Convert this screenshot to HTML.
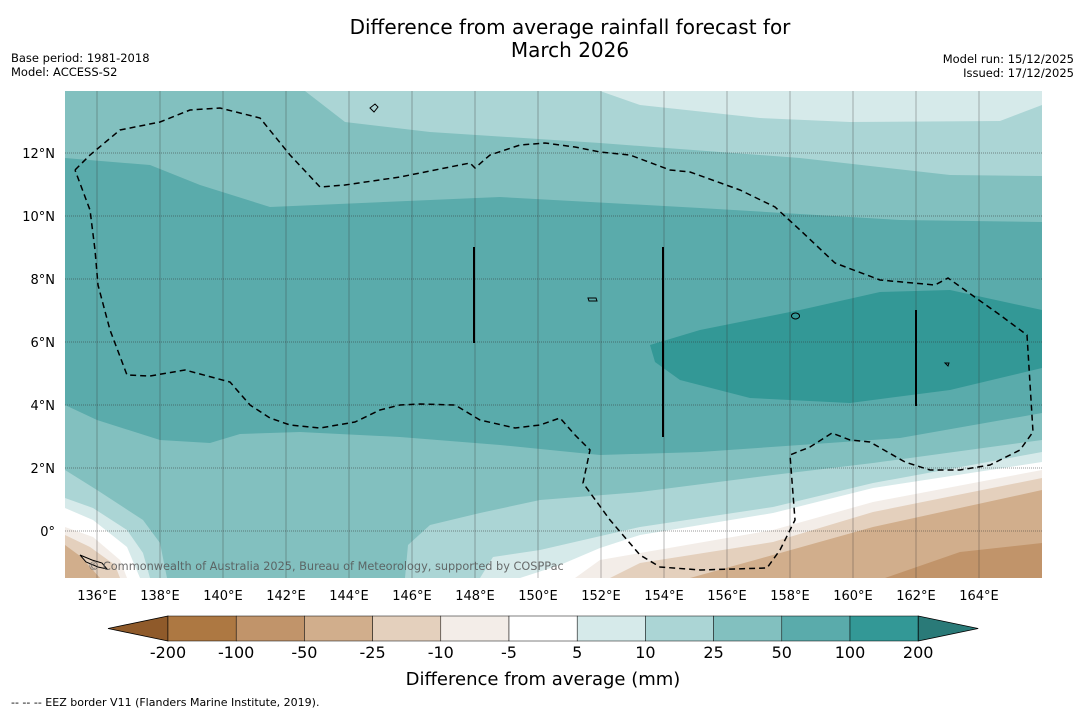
<!DOCTYPE html>
<html><head><meta charset="utf-8"><style>
body{margin:0;background:#fff;font-family:"Liberation Sans","DejaVu Sans",sans-serif}
svg{display:block}
</style></head><body>
<svg width="1085" height="713" viewBox="0 0 1085 713" xmlns="http://www.w3.org/2000/svg" font-family="DejaVu Sans, Liberation Sans, sans-serif">
<text x="570" y="34" font-size="20" text-anchor="middle">Difference from average rainfall forecast for</text>
<text x="570" y="57" font-size="20" text-anchor="middle">March 2026</text>
<text x="11" y="62" font-size="11.5">Base period: 1981-2018</text>
<text x="11" y="76" font-size="11.5">Model: ACCESS-S2</text>
<text x="1074" y="63" font-size="11.5" text-anchor="end">Model run: 15/12/2025</text>
<text x="1074" y="77" font-size="11.5" text-anchor="end">Issued: 17/12/2025</text>
<defs><clipPath id="mc"><rect x="65" y="91" width="977" height="487"/></clipPath></defs>
<g clip-path="url(#mc)">
<rect x="65" y="91" width="977" height="487" fill="#82c0bf"/>
<polygon fill="#5aabab" points="65,158 150,165 200,185 270,207 500,197 700,208 900,220 1042,222 1042,413 900,438 800,445 700,452 600,455 500,445 400,437 300,432 240,434 210,443 160,440 97,420 65,405"/>
<polygon fill="#339896" points="650,345 700,330 800,310 880,292 950,290 1042,310 1042,368 950,390 850,403 750,398 680,380 655,362"/>
<polygon fill="#abd5d5" points="305,91 345,122 430,132 600,143 800,158 950,175 1042,176 1042,91"/>
<polygon fill="#d6eaea" points="600,91 640,105 760,118 850,122 1000,121 1042,105 1042,91"/>
<polygon fill="#abd5d5" points="65,470 97,490 143,520 160,543 167,578 65,578"/>
<polygon fill="#d6eaea" points="65,498 93,508 127,530 143,553 150,578 65,578"/>
<polygon fill="#ffffff" points="65,508 93,520 127,547 140,578 65,578"/>
<polygon fill="#f3ede8" points="65,527 93,537 120,560 127,578 65,578"/>
<polygon fill="#e4d0bd" points="65,535 90,547 115,565 120,578 65,578"/>
<polygon fill="#d1ae8c" points="65,545 80,556 100,578 65,578"/>
<polygon fill="#abd5d5" points="405,578 408,545 430,525 480,513 540,500 640,492 773,475 873,463 1042,440 1042,578"/>
<polygon fill="#d6eaea" points="480,578 493,557 540,550 640,527 773,507 873,483 1042,452 1042,578"/>
<polygon fill="#ffffff" points="520,578 560,565 600,548 640,535 773,513 873,488 1042,462 1042,578"/>
<polygon fill="#f3ede8" points="575,578 600,560 640,553 773,530 873,502 1042,470 1042,578"/>
<polygon fill="#e4d0bd" points="610,578 640,563 773,542 873,512 1042,478 1042,578"/>
<polygon fill="#d1ae8c" points="690,578 773,555 873,527 1042,490 1042,578"/>
<polygon fill="#c1946a" points="885,578 960,552 1042,543 1042,578"/>
<g id="grid"></g>
<polyline fill="none" stroke="#000" stroke-width="1.5" stroke-dasharray="6,4" points="75,170 90,155 120,130 160,122 190,110 220,108 260,118 290,155 320,187 345,185 400,177 470,163 475,168 490,155 520,145 545,143 575,147 600,152 630,155 670,170 690,172 740,190 775,207 800,230 835,263 880,280 935,285 948,278 1000,315 1027,335 1033,432 1020,450 990,465 960,470 930,470 905,462 870,442 850,440 832,433 810,447 790,455 795,520 780,550 767,568 700,570 660,567 640,555 610,520 583,483 590,450 575,435 560,418 540,425 515,428 480,420 455,405 420,404 400,405 380,410 355,422 320,428 290,425 270,418 250,405 230,382 185,370 150,376 127,375 110,330 98,285 95,250 90,210 75,170"/>
<line x1="474" y1="247" x2="474" y2="343" stroke="#000" stroke-width="2"/>
<line x1="663" y1="247" x2="663" y2="437" stroke="#000" stroke-width="2"/>
<line x1="916" y1="310" x2="916" y2="406" stroke="#000" stroke-width="2"/>
<path d="M370,108 l5,-4 l3,3 l-4,5z M795,313 a4,3 0 1,0 1,0z M945,363 l4,0 l-1,3z M588,298 l8,0 l1,3 l-8,0z M80,555 l12,5 l10,3 l5,6 l-9,-2 l-12,-5z" fill="none" stroke="#000" stroke-width="1"/>
<text x="88" y="570" font-size="11.3" fill="#555" fill-opacity="0.85">© Commonwealth of Australia 2025, Bureau of Meteorology, supported by COSPPac</text>
</g>
<g id="axes"></g>
<g id="cbar"></g>
<text x="543" y="685" font-size="18" text-anchor="middle">Difference from average (mm)</text>
<text x="11" y="706" font-size="11">--  --  -- EEZ border V11 (Flanders Marine Institute, 2019).</text>
<script>
const lonTicks=[136,138,140,142,144,146,148,150,152,154,156,158,160,162,164];
const latTicks=[0,2,4,6,8,10,12];
const levelLabels=["-200","-100","-50","-25","-10","-5","5","10","25","50","100","200"];
const bandColors=["#ad7842","#c1946a","#d1ae8c","#e4d0bd","#f3ede8","#ffffff","#d6eaea","#abd5d5","#82c0bf","#5aabab","#339896"];
const extendColors=["#8f5a2a","#2a7a78"];
const NS="http://www.w3.org/2000/svg";
const xLon=l=>97+(l-136)*31.5, yLat=l=>531-l*31.5;
function mk(t,a){const e=document.createElementNS(NS,t);for(const k in a)e.setAttribute(k,a[k]);return e;}
const grid=document.getElementById('grid'), axes=document.getElementById('axes'), cb=document.getElementById('cbar');
lonTicks.forEach(l=>{
 const g=mk('line',{x1:xLon(l),x2:xLon(l),y1:91,y2:578,stroke:'#333','stroke-opacity':0.35,'stroke-width':1});
 
 
 grid.appendChild(g);
 const t=mk('text',{x:xLon(l),y:600,'font-size':13,'text-anchor':'middle'});t.textContent=l+'°E';
 
 
 axes.appendChild(t);
});
latTicks.concat([14]).forEach(l=>{
 const g=mk('line',{x1:65,x2:1042,y1:yLat(l),y2:yLat(l),stroke:'#333','stroke-opacity':0.5,'stroke-width':1,'stroke-dasharray':'1,1'});
 
 
 grid.appendChild(g);
});
latTicks.forEach(l=>{
 const t=mk('text',{x:55,y:yLat(l)+5,'font-size':13,'text-anchor':'end'});t.textContent=l===0?'0°':l+'°N';
 
 
 axes.appendChild(t);
});
const cx0=168,cw=68.2,cy=616,ch=25;
const la=mk('polygon',{points:`108,${cy+ch/2} ${cx0},${cy} ${cx0},${cy+ch}`,fill:extendColors[0],stroke:'#000','stroke-width':0.8});


cb.appendChild(la);
bandColors.forEach((c,i)=>{
 const r=mk('rect',{x:cx0+i*cw,y:cy,width:cw,height:ch,fill:c,stroke:'#000','stroke-width':0.5});
 
 
 cb.appendChild(r);
});
const xe=cx0+bandColors.length*cw;
const ra=mk('polygon',{points:`${xe},${cy} ${xe+60},${cy+ch/2} ${xe},${cy+ch}`,fill:extendColors[1],stroke:'#000','stroke-width':0.8});


cb.appendChild(ra);
levelLabels.forEach((s,i)=>{
 const t=mk('text',{x:cx0+i*cw,y:658,'font-size':16,'text-anchor':'middle'});t.textContent=s;
 
 
 cb.appendChild(t);
});
</script>
</svg>
</body></html>
